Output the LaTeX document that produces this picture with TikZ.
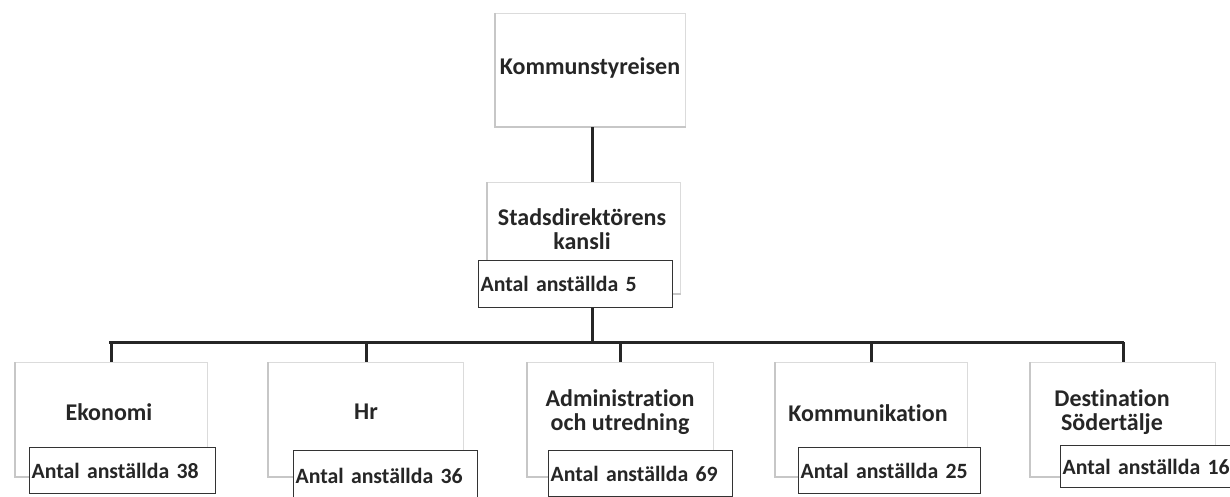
\documentclass[tikz,border=0pt]{standalone}
\usepackage{fontspec}
\setmainfont[Ligatures={NoCommon}]{Carlito}
\definecolor{txt}{HTML}{262626}
\definecolor{conn}{HTML}{262626}
\begin{document}
\begin{tikzpicture}[x=1pt,y=-1pt,
  outerbox/.style={draw=black!14, line width=1.3pt, fill=white, minimum height=114pt, inner sep=0pt, anchor=north west},
  shadowline/.style={draw=black!22, line width=2pt},
  head/.style={text=txt, font=\bfseries\fontsize{24}{23.5}\selectfont, align=center, inner sep=0pt},
  antal/.style={draw=black!80, line width=1.1pt, fill=white, anchor=north west, minimum height=46pt, inner xsep=2pt, inner ysep=0pt, align=left, text=txt, font=\bfseries\fontsize{21.8}{22}\selectfont},
  link/.style={draw=conn, line width=3pt}]
\useasboundingbox (0,0) rectangle (1230,497);
\clip (0,0) rectangle (1230,497);
\fill[white] (0,0) rectangle (1230,497);

% top level
\node[outerbox, minimum width=190pt, minimum height=113pt] (ks) at (495,13) {};
\draw[shadowline] (ks.north west) -- (ks.south west) -- (ks.south east);
\node[head] (kst) at (590,68) {Kommunstyreisen};

% second level
\node[outerbox, minimum width=193pt, minimum height=111pt] (sd) at (487,182) {};
\draw[shadowline] (sd.north west) -- (sd.south west) -- (sd.south east);
\node[head] (sdt) at (582,229) {Stadsdirektörens\\kansli};
\node[antal, minimum width=194pt, text width=190pt, minimum height=47pt] (sda) at (478,260) {Antal anställda 5};

% bus coordinates
\coordinate (spine) at (592,0);
\coordinate (busL) at (110,342);
\coordinate (busR) at (1122,342);

% bottom boxes
\node[outerbox, minimum width=192pt] (ek) at (15,362) {};
\node[outerbox, minimum width=195pt] (hr) at (268,362) {};
\node[outerbox, minimum width=186pt] (ad) at (527,362) {};
\node[outerbox, minimum width=192pt] (ko) at (775,362) {};
\node[outerbox, minimum width=185pt] (de) at (1030,362) {};
\foreach \b in {ek,hr,ad,ko,de}{
  \draw[shadowline] (\b.north west) -- (\b.south west) -- (\b.south east);
}

\node[head] (ekt) at (109,412) {Ekonomi};
\node[head] (hrt) at (366,412) {Hr};
\node[head] (adt) at (620,412) {Administration\\och utredning};
\node[head] (kot) at (868,413) {Kommunikation};
\node[head] (det) at (1112,412) {Destination\\Södertälje};

\node[antal, minimum width=186pt, text width=182pt] (eka) at (29,447) {Antal anställda 38};
\node[antal, minimum width=184pt, text width=180pt, minimum height=50pt] (hra) at (293,450) {Antal anställda 36};
\node[antal, minimum width=184pt, text width=180pt] (ada) at (548,450) {Antal anställda 69};
\node[antal, minimum width=182pt, text width=178pt] (koa) at (798,447) {Antal anställda 25};
\node[antal, minimum width=200pt, text width=196pt, minimum height=42pt] (dea) at (1060,445) {Antal anställda 16};

% connectors
\draw[link] (ks.south -| spine) -- (sd.north -| spine);
\draw[link] (sda.south -| spine) -- (busL -| spine);
\draw[link, line cap=rect] (busL) -- (busR);
\foreach \b in {ek,hr,ad,ko,de}{
  \draw[link] (busL -| \b.north) -- (\b.north);
}
\end{tikzpicture}
\end{document}
